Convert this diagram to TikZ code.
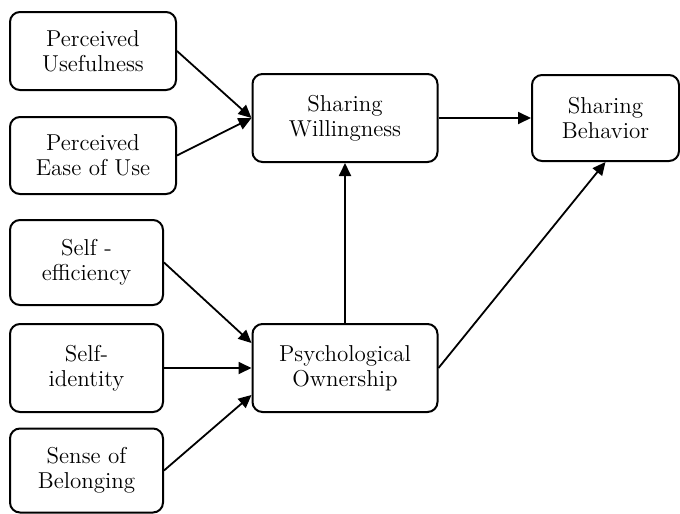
\documentclass[tikz,border=0pt]{standalone}
\usetikzlibrary{arrows.meta, positioning}
\tikzset{
  every picture/.style={line width=1pt},
  factor/.style={draw=black, rounded corners=5pt, align=center, inner sep=2pt,
    font=\fontsize{11.5}{12.5}\selectfont},
  link/.style={-{Triangle[length=6.5pt, width=6pt]}, line width=0.9pt},
}
\begin{document}
\begin{tikzpicture}[x=0.5pt, y=-0.5pt]
  \useasboundingbox (0,0) rectangle (680,514);
  % antecedents
  \node[factor, minimum width=83pt, minimum height=39pt] (pu) at (93,51) {Perceived\\Usefulness};
  \node[factor, minimum width=83pt, minimum height=38.5pt] (peou) at (93,155.5) {Perceived\\Ease of Use};
  \node[factor, minimum width=76.5pt, minimum height=42.5pt] (seff) at (86.5,262.5) {Self -\\efficiency};
  \node[factor, minimum width=76.5pt, minimum height=44pt] (sid) at (86.5,368) {Self-\\identity};
  \node[factor, minimum width=76.5pt, minimum height=42pt] (belong) at (86.5,470.5) {Sense of\\Belonging};
  % mediators and outcome
  \node[factor, minimum width=92.5pt, minimum height=44pt] (sw) at (345,118) {Sharing\\Willingness};
  \node[factor, minimum width=92.5pt, minimum height=44pt] (po) at (345,368) {Psychological\\Ownership};
  \node[factor, minimum width=73.5pt, minimum height=43pt] (sb) at (605.5,118) {Sharing\\Behavior};
  % paths
  \draw[link] (pu.east) -- (sw.west);
  \draw[link] (peou.east) -- (sw.west);
  \draw[link] (seff.east) -- ([yshift=12.5pt]po.west);
  \draw[link] (sid.east) -- (po.west);
  \draw[link] (belong.east) -- ([yshift=-13.5pt]po.west);
  \draw[link] (po.north) -- (sw.south);
  \draw[link] (sw.east) -- (sb.west);
  \draw[link] (po.east) -- (sb.south);
\end{tikzpicture}
\end{document}
